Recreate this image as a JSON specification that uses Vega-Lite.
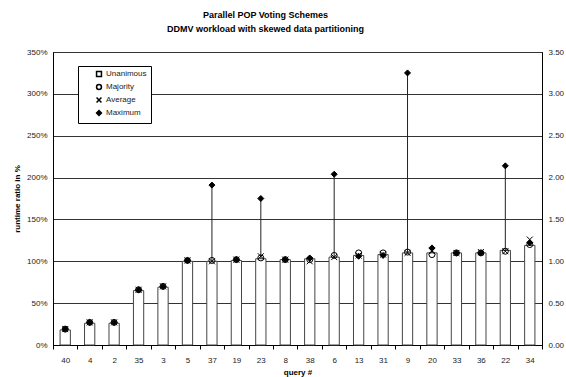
{
  "$schema": "https://vega.github.io/schema/vega-lite/v6.json",
  "width": 489,
  "height": 293,
  "autosize": {"type": "none"},
  "padding": {"left": 53, "top": 52, "right": 24, "bottom": 32},
  "background": "white",
  "title": {
    "text": ["Parallel POP Voting Schemes", "DDMV workload with skewed data partitioning"],
    "font": "Liberation Sans",
    "fontSize": 9,
    "fontWeight": "bold",
    "color": "#000",
    "offset": 14,
    "dx": -32,
    "lineHeight": 14
  },
  "config": {
    "font": "Liberation Sans",
    "view": {"stroke": "#000", "strokeWidth": 1},
    "axis": {"labelFont": "Liberation Sans", "titleFont": "Liberation Sans", "labelColor": "#222", "titleColor": "#000", "labelFontSize": 8, "titleFontSize": 8, "titleFontWeight": "bold", "domainColor": "#000", "tickColor": "#000"},
    "legend": {"labelColor": "#222", "labelFont": "Liberation Sans", "labelFontSize": 8}
  },
  "data": {
    "values": [
      {"query": "40", "Unanimous": 0.18, "Majority": 0.19, "Average": 0.19, "Maximum": 0.19},
      {"query": "4", "Unanimous": 0.26, "Majority": 0.27, "Average": 0.27, "Maximum": 0.27},
      {"query": "2", "Unanimous": 0.26, "Majority": 0.27, "Average": 0.27, "Maximum": 0.27},
      {"query": "35", "Unanimous": 0.65, "Majority": 0.66, "Average": 0.66, "Maximum": 0.66},
      {"query": "3", "Unanimous": 0.69, "Majority": 0.70, "Average": 0.70, "Maximum": 0.70},
      {"query": "5", "Unanimous": 1.00, "Majority": 1.01, "Average": 1.01, "Maximum": 1.01},
      {"query": "37", "Unanimous": 1.00, "Majority": 1.01, "Average": 1.00, "Maximum": 1.91},
      {"query": "19", "Unanimous": 1.01, "Majority": 1.02, "Average": 1.02, "Maximum": 1.02},
      {"query": "23", "Unanimous": 1.03, "Majority": 1.04, "Average": 1.06, "Maximum": 1.75},
      {"query": "8", "Unanimous": 1.02, "Majority": 1.02, "Average": 1.02, "Maximum": 1.02},
      {"query": "38", "Unanimous": 1.03, "Majority": 1.02, "Average": 1.00, "Maximum": 1.04},
      {"query": "6", "Unanimous": 1.05, "Majority": 1.07, "Average": 1.05, "Maximum": 2.04},
      {"query": "13", "Unanimous": 1.07, "Majority": 1.10, "Average": 1.07, "Maximum": 1.06},
      {"query": "31", "Unanimous": 1.08, "Majority": 1.10, "Average": 1.08, "Maximum": 1.07},
      {"query": "9", "Unanimous": 1.10, "Majority": 1.11, "Average": 1.10, "Maximum": 3.25},
      {"query": "20", "Unanimous": 1.10, "Majority": 1.08, "Average": 1.12, "Maximum": 1.16},
      {"query": "33", "Unanimous": 1.10, "Majority": 1.10, "Average": 1.10, "Maximum": 1.10},
      {"query": "36", "Unanimous": 1.10, "Majority": 1.10, "Average": 1.11, "Maximum": 1.10},
      {"query": "22", "Unanimous": 1.13, "Majority": 1.12, "Average": 1.12, "Maximum": 2.14},
      {"query": "34", "Unanimous": 1.19, "Majority": 1.20, "Average": 1.26, "Maximum": 1.22}
    ]
  },
  "layer": [
    {
      "mark": {"type": "bar", "fill": "white", "stroke": "#444", "strokeWidth": 1, "width": {"band": 0.42}},
      "encoding": {
        "x": {
          "field": "query", "type": "nominal", "sort": null,
          "scale": {"paddingInner": 0, "paddingOuter": 0},
          "axis": {"title": "query #", "labelAngle": 0, "ticks": true, "tickBand": "extent", "tickSize": 4, "tickWidth": 1, "tickColor": "#000", "labelPadding": 7, "titlePadding": 4, "grid": false}
        },
        "y": {
          "field": "Unanimous", "type": "quantitative",
          "scale": {"domain": [0, 3.5], "nice": false, "zero": true},
          "axis": {"orient": "left", "format": ".0%", "values": [0, 0.5, 1, 1.5, 2, 2.5, 3, 3.5], "grid": true, "gridColor": "#333", "gridWidth": 1, "ticks": false, "labelPadding": 6, "title": "runtime ratio in %", "titlePadding": 5}
        }
      }
    },
    {
      "mark": {"type": "rule", "color": "#222", "strokeWidth": 1},
      "encoding": {
        "x": {"field": "query", "type": "nominal", "sort": null, "scale": {"paddingInner": 0, "paddingOuter": 0}},
        "y": {
          "field": "Unanimous", "type": "quantitative",
          "scale": {"domain": [0, 3.5], "nice": false},
          "axis": {"orient": "right", "format": ".2f", "values": [0, 0.5, 1, 1.5, 2, 2.5, 3, 3.5], "grid": false, "ticks": false, "labelPadding": 6, "title": null}
        },
        "y2": {"field": "Maximum"}
      }
    },
    {
      "transform": [{"fold": ["Majority", "Average", "Maximum"], "as": ["series", "value"]}],
      "mark": {"type": "point", "stroke": "#000", "strokeWidth": 1, "opacity": 1, "size": 36},
      "encoding": {
        "x": {"field": "query", "type": "nominal", "sort": null, "scale": {"paddingInner": 0, "paddingOuter": 0}},
        "y": {"field": "value", "type": "quantitative", "scale": {"domain": [0, 3.5], "nice": false}, "axis": null},
        "shape": {
          "field": "series", "type": "nominal",
          "scale": {"domain": ["Unanimous", "Majority", "Average", "Maximum"], "range": ["square", "circle", "M-1,-1L1,1M1,-1L-1,1", "diamond"]},
          "legend": {
            "orient": "none", "legendX": 25, "legendY": 14, "title": null,
            "strokeColor": "#000", "fillColor": "white", "padding": 4, "symbolOffset": 13,
            "labelFontSize": 8, "labelFont": "Liberation Sans", "labelColor": "#222",
            "symbolSize": 24, "rowPadding": 1, "labelOffset": 3,
            "encode": {
              "symbols": {"update": {
                "stroke": {"value": "#000"},
                "strokeWidth": {"value": 1},
                "opacity": {"value": 1},
                "fill": {"signal": "datum.value === 'Maximum' ? '#000' : 'white'"}
              }}
            }
          }
        },
        "fill": {
          "field": "series", "type": "nominal",
          "scale": {"domain": ["Unanimous", "Majority", "Average", "Maximum"], "range": ["white", "transparent", "transparent", "black"]},
          "legend": null
        }
      }
    }
  ],
  "resolve": {"scale": {"y": "independent"}}
}
